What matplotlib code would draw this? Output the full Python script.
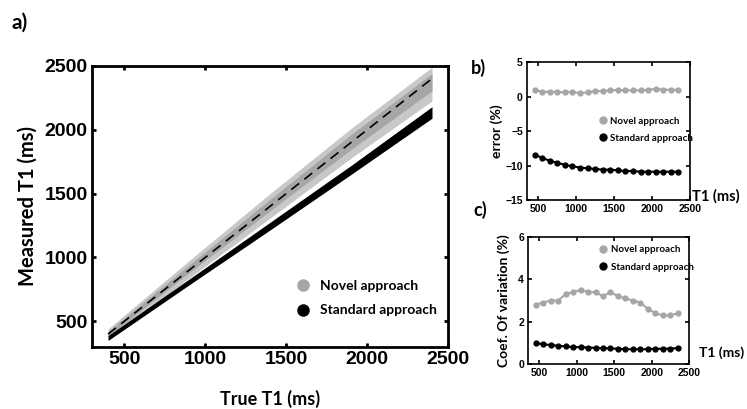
import matplotlib
matplotlib.use("Agg")
import matplotlib.pyplot as plt
from matplotlib.lines import Line2D

# ---- data ----
band_x = [400, 900, 1400, 1900, 2400]
novel_lo = [355, 838, 1308, 1778, 2225]
novel_hi = [440, 975, 1500, 2010, 2490]
novel_core_lo = [383, 880, 1365, 1845, 2305]
novel_core_hi = [422, 940, 1455, 1962, 2440]
std_lo = [350, 785, 1215, 1650, 2090]
std_hi = [388, 830, 1275, 1720, 2180]
identity_x = [400, 2400]
identity_y = [400, 2400]

t1 = [450, 550, 650, 750, 850, 950, 1050, 1150, 1250, 1350,
      1450, 1550, 1650, 1750, 1850, 1950, 2050, 2150, 2250, 2350]
err_novel = [1.0, 0.7, 0.7, 0.7, 0.6, 0.7, 0.5, 0.6, 0.8, 0.8,
             0.9, 1.0, 0.9, 0.9, 0.9, 1.0, 1.1, 1.0, 1.0, 1.0]
err_std = [-8.4, -8.9, -9.3, -9.6, -9.9, -10.1, -10.3, -10.4, -10.5, -10.6,
           -10.6, -10.7, -10.8, -10.8, -10.9, -10.9, -10.9, -10.9, -10.9, -10.9]
cv_novel = [2.8, 2.9, 3.0, 3.0, 3.3, 3.4, 3.5, 3.4, 3.4, 3.2,
            3.4, 3.2, 3.1, 3.0, 2.9, 2.6, 2.4, 2.3, 2.3, 2.4]
cv_std = [1.0, 0.93, 0.9, 0.86, 0.83, 0.8, 0.8, 0.78, 0.76, 0.75,
          0.74, 0.72, 0.7, 0.7, 0.7, 0.7, 0.72, 0.72, 0.73, 0.75]

labels = ["Novel approach", "Standard approach"]
main_xticks = [500, 1000, 1500, 2000, 2500]
main_yticks = [500, 1000, 1500, 2000, 2500]
small_xticks = [500, 1000, 1500, 2000, 2500]
err_yticks = [-15, -10, -5, 0, 5]
cv_yticks = [0, 2, 4, 6]

GRAY = "#a6a6a6"
LIGHT = "#c8c8c8"
TICKF = "Liberation Sans"
LABF = "Lato"

fig = plt.figure(figsize=(7.47, 4.09), dpi=100)

def style(ax, fs, lw):
    ax.tick_params(direction="in", top=True, right=True, length=3, width=lw,
                   labelsize=fs, pad=3)
    for s in ax.spines.values():
        s.set_linewidth(lw)
    for lab in ax.get_xticklabels() + ax.get_yticklabels():
        lab.set_fontfamily(TICKF)
        lab.set_fontweight("bold")

# ---- panel a ----
ax = fig.add_axes([0.123, 0.152, 0.477, 0.687])
ax.fill_between(band_x, novel_lo, novel_hi, color=LIGHT, lw=0)
ax.fill_between(band_x, novel_core_lo, novel_core_hi, color=GRAY, lw=0)
ax.fill_between(band_x, std_lo, std_hi, color="black", lw=0)
ax.plot(identity_x, identity_y, ls=(0, (6, 4)), color="black", lw=1.2)
ax.set_xlim(300, 2500)
ax.set_ylim(300, 2500)
ax.set_xticks(main_xticks)
ax.set_yticks(main_yticks)
style(ax, 14, 2)
ax.set_xlabel("True T1 (ms)", fontfamily=LABF, fontweight="bold", fontsize=13, labelpad=16)
ax.set_ylabel("Measured T1 (ms)", fontfamily=LABF, fontweight="bold", fontsize=14.5, labelpad=5)
h = [Line2D([], [], ls="none", marker="o", ms=8, color=GRAY),
     Line2D([], [], ls="none", marker="o", ms=8, color="black")]
ax.legend(h, labels, loc="center left", bbox_to_anchor=(0.535, 0.173), frameon=False,
          prop={"family": LABF, "weight": "bold", "size": 10},
          handletextpad=0.6, labelspacing=0.9, handlelength=1.2)
fig.text(0.015, 0.945, "a)", fontfamily=LABF, fontweight="bold", fontsize=15, va="center")

# ---- panel b ----
axb = fig.add_axes([0.7055, 0.511, 0.218, 0.337])
axb.plot(t1, err_novel, "-o", color=GRAY, ms=3.5, lw=1.5)
axb.plot(t1, err_std, "-o", color="black", ms=3.5, lw=1.5)
axb.set_xlim(350, 2500)
axb.set_ylim(-15, 5)
axb.set_xticks(small_xticks)
axb.set_yticks(err_yticks)
style(axb, 7.5, 1.2)
axb.set_ylabel("error (%)", fontfamily=LABF, fontweight="bold", fontsize=10, labelpad=2)
hb = [Line2D([], [], ls="none", marker="o", ms=5, color=GRAY),
      Line2D([], [], ls="none", marker="o", ms=5, color="black")]
axb.legend(hb, labels, loc="center left", bbox_to_anchor=(0.38, 0.51), frameon=False,
           prop={"family": LABF, "weight": "bold", "size": 7},
           handletextpad=0.3, labelspacing=0.85, handlelength=1.0)
fig.text(0.927, 0.52, "T1 (ms)", fontfamily=LABF, fontweight="bold", fontsize=10.5, va="center")
fig.text(0.631, 0.835, "b)", fontfamily=LABF, fontweight="bold", fontsize=13, va="center")

# ---- panel c ----
axc = fig.add_axes([0.707, 0.110, 0.2155, 0.3105])
axc.plot(t1, cv_novel, "-o", color=GRAY, ms=3.5, lw=1.5)
axc.plot(t1, cv_std, "-o", color="black", ms=3.5, lw=1.5)
axc.set_xlim(350, 2500)
axc.set_ylim(0, 6)
axc.set_xticks(small_xticks)
axc.set_yticks(cv_yticks)
style(axc, 7.5, 1.2)
axc.set_ylabel("Coef. Of variation (%)", fontfamily=LABF, fontweight="bold", fontsize=10, labelpad=6)
axc.legend(hb, labels, loc="center left", bbox_to_anchor=(0.38, 0.83), frameon=False,
           prop={"family": LABF, "weight": "bold", "size": 7},
           handletextpad=0.3, labelspacing=0.85, handlelength=1.0)
fig.text(0.936, 0.137, "T1 (ms)", fontfamily=LABF, fontweight="bold", fontsize=10, va="center")
fig.text(0.634, 0.486, "c)", fontfamily=LABF, fontweight="bold", fontsize=13, va="center")

fig.savefig("out.png", dpi=100)
